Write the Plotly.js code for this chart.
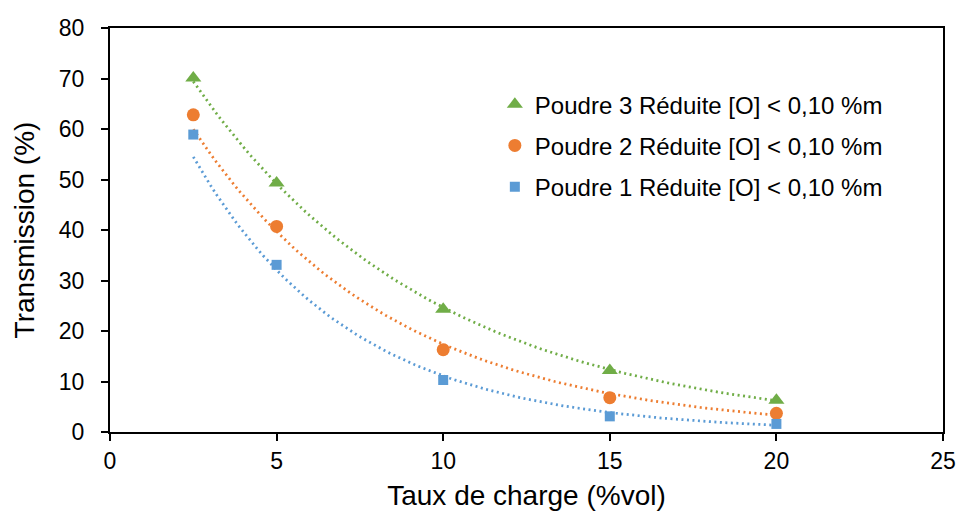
<!DOCTYPE html>
<html>
<head>
<meta charset="utf-8">
<script src="https://cdn.plot.ly/plotly-3.0.1.min.js"></script>
<style>html,body{margin:0;padding:0;background:#fff}#chart{width:959px;height:511px}</style>
</head>
<body>
<div id="chart"></div>
<script>
const xValues = [2.5, 5, 10, 15, 20];
const poudre3 = [70.1, 49.3, 24.3, 12.2, 6.3];
const poudre2 = [62.8, 40.7, 16.3, 6.8, 3.7];
const poudre1 = [58.9, 33.1, 10.3, 3.1, 1.6];
const seriesNames = [
  'Poudre 3 Réduite [O] < 0,10 %m',
  'Poudre 2 Réduite [O] < 0,10 %m',
  'Poudre 1 Réduite [O] < 0,10 %m'
];
const xTicks = [0, 5, 10, 15, 20, 25];
const yTicks = [0, 10, 20, 30, 40, 50, 60, 70, 80];

// Exponential least-squares fit (like an Excel exponential trendline)
function expFit(xs, ys) {
  const n = xs.length;
  const ly = ys.map(v => Math.log(v));
  const mx = xs.reduce((a, b) => a + b, 0) / n;
  const my = ly.reduce((a, b) => a + b, 0) / n;
  let sxy = 0, sxx = 0;
  for (let i = 0; i < n; i++) { sxy += (xs[i] - mx) * (ly[i] - my); sxx += (xs[i] - mx) ** 2; }
  const b = sxy / sxx, a = my - b * mx;
  const x0 = Math.min(...xs), x1 = Math.max(...xs);
  const fx = [], fy = [];
  for (let i = 0; i <= 100; i++) { const x = x0 + (x1 - x0) * i / 100; fx.push(x); fy.push(Math.exp(a + b * x)); }
  return {fx, fy};
}

const colors = ['#70AD47', '#ED7D31', '#5B9BD5'];
const symbols = ['triangle-up', 'circle', 'square'];
const sizes = [14, 13, 10];
const allY = [poudre3, poudre2, poudre1];

const traces = [];
allY.forEach((ys, i) => {
  const f = expFit(xValues, ys);
  traces.push({
    x: f.fx, y: f.fy, mode: 'lines', showlegend: false, hoverinfo: 'skip',
    line: {color: colors[i], width: 2.75, dash: '2px,3.5px', shape: 'linear'}
  });
});
allY.forEach((ys, i) => {
  traces.push({
    x: xValues, y: ys, mode: 'markers', name: seriesNames[i], legendgroup: 'g' + i,
    marker: {color: colors[i], symbol: symbols[i], size: sizes[i]}
  });
});

const fam = 'Liberation Sans, Arial, sans-serif';
const tickFont = {family: fam, size: 23, color: '#000'};
const legFont = {family: fam, size: 24, color: '#000'};
const titleFont = {family: fam, size: 28, color: '#000'};
const layout = {
  width: 959, height: 511,
  margin: {l: 110, r: 16, t: 28, b: 79},
  paper_bgcolor: '#fff', plot_bgcolor: '#fff',
  font: tickFont,
  showlegend: true,
  legend: {
    x: 0.462, y: 0.866, xanchor: 'left', yanchor: 'top',
    font: legFont, bgcolor: 'rgba(0,0,0,0)', borderwidth: 0,
    traceorder: 'grouped', tracegroupgap: 7, itemwidth: 30
  },
  xaxis: {
    range: [0, 25], tickvals: xTicks, ticktext: xTicks.map(String),
    showgrid: false, zeroline: false, showline: true, mirror: true,
    linecolor: '#000', linewidth: 2, ticks: 'outside', ticklen: 7, tickwidth: 2, tickcolor: '#000',
    tickfont: tickFont, ticklabelstandoff: 0,
    title: {text: 'Taux de charge (%vol)', font: titleFont, standoff: 13}
  },
  yaxis: {
    range: [0, 80], tickvals: yTicks, ticktext: yTicks.map(String),
    showgrid: false, zeroline: false, showline: true, mirror: true,
    linecolor: '#000', linewidth: 2, ticks: 'outside', ticklen: 7, tickwidth: 2, tickcolor: '#000',
    tickfont: tickFont, ticklabelstandoff: 12,
    title: {text: 'Transmission (%)', font: titleFont, standoff: 16}
  }
};
Plotly.newPlot('chart', traces, layout, {staticPlot: true, displayModeBar: false});
</script>
</body>
</html>
